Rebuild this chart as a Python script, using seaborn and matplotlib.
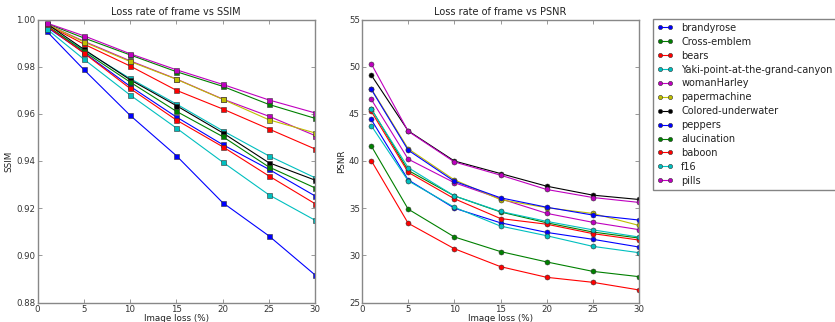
import numpy as np
import pandas as pd
import matplotlib
matplotlib.use("Agg")
import matplotlib.pyplot as plt
import seaborn as sns

loss = [1, 5, 10, 15, 20, 25, 30]
names = ["brandyrose", "Cross-emblem", "bears", "Yaki-point-at-the-grand-canyon",
         "womanHarley", "papermachine", "Colored-underwater", "peppers",
         "alucination", "baboon", "f16", "pills"]
colors = ["#0000ff", "#008000", "#ff0000", "#00bfbf", "#bf00bf", "#bfbf00",
          "#000000", "#0000ff", "#008000", "#ff0000", "#00bfbf", "#bf00bf"]

ssim_brandyrose = [0.9950, 0.9788, 0.9594, 0.9423, 0.9224, 0.9083, 0.8917]
ssim_cross      = [0.9983, 0.9922, 0.9850, 0.9779, 0.9717, 0.9640, 0.9581]
ssim_bears      = [0.9978, 0.9896, 0.9803, 0.9700, 0.9621, 0.9536, 0.9451]
ssim_yaki       = [0.9972, 0.9870, 0.9750, 0.9642, 0.9529, 0.9422, 0.9329]
ssim_woman      = [0.9980, 0.9908, 0.9825, 0.9748, 0.9663, 0.9590, 0.9508]
ssim_paper      = [0.9980, 0.9905, 0.9822, 0.9747, 0.9662, 0.9575, 0.9519]
ssim_colored    = [0.9982, 0.9874, 0.9745, 0.9635, 0.9520, 0.9393, 0.9319]
ssim_peppers    = [0.9968, 0.9860, 0.9717, 0.9587, 0.9470, 0.9365, 0.9252]
ssim_alucin     = [0.9975, 0.9865, 0.9735, 0.9611, 0.9504, 0.9375, 0.9286]
ssim_baboon     = [0.9972, 0.9858, 0.9708, 0.9574, 0.9461, 0.9337, 0.9219]
ssim_f16        = [0.9960, 0.9832, 0.9680, 0.9540, 0.9396, 0.9257, 0.9149]
ssim_pills      = [0.9985, 0.9931, 0.9855, 0.9787, 0.9725, 0.9659, 0.9604]

psnr_brandyrose = [44.4, 38.0, 35.0, 33.45, 32.43, 31.7, 30.88]
psnr_cross      = [45.55, 39.0, 36.3, 34.6, 33.45, 32.47, 31.83]
psnr_bears      = [45.27, 38.8, 36.0, 33.9, 33.3, 32.3, 31.62]
psnr_yaki       = [45.48, 39.3, 36.3, 34.65, 33.6, 32.7, 31.94]
psnr_woman      = [46.54, 40.2, 37.7, 36.0, 34.45, 33.5, 32.72]
psnr_paper      = [47.67, 41.3, 38.0, 35.9, 35.05, 34.44, 33.17]
psnr_colored    = [49.11, 43.2, 40.0, 38.67, 37.33, 36.38, 35.92]
psnr_peppers    = [47.6, 41.15, 37.85, 36.1, 35.1, 34.27, 33.74]
psnr_alucin     = [41.6, 34.9, 31.95, 30.4, 29.3, 28.3, 27.74]
psnr_baboon     = [40.05, 33.4, 30.7, 28.8, 27.67, 27.14, 26.33]
psnr_f16        = [43.75, 37.9, 35.1, 33.1, 32.08, 30.95, 30.28]
psnr_pills      = [50.31, 43.15, 39.9, 38.5, 36.98, 36.13, 35.61]

ssim = [ssim_brandyrose, ssim_cross, ssim_bears, ssim_yaki, ssim_woman, ssim_paper,
        ssim_colored, ssim_peppers, ssim_alucin, ssim_baboon, ssim_f16, ssim_pills]
psnr = [psnr_brandyrose, psnr_cross, psnr_bears, psnr_yaki, psnr_woman, psnr_paper,
        psnr_colored, psnr_peppers, psnr_alucin, psnr_baboon, psnr_f16, psnr_pills]

rows = []
for n, s, p in zip(names, ssim, psnr):
    for x, sv, pv in zip(loss, s, p):
        rows.append({"image": n, "loss": x, "SSIM": sv, "PSNR": pv})
df = pd.DataFrame(rows)

sns.set_style("ticks")
plt.rcParams["font.family"] = ["DejaVu Sans"]
plt.rcParams.update({
    "xtick.direction": "in", "ytick.direction": "in",
    "xtick.top": True, "ytick.right": True,
    "axes.edgecolor": "#888888", "xtick.color": "#888888", "ytick.color": "#888888",
    "xtick.labelcolor": "#333333", "ytick.labelcolor": "#333333",
    "text.color": "#222222", "axes.labelcolor": "#222222",
    "xtick.major.size": 3, "ytick.major.size": 3,
})

fig = plt.figure(figsize=(8.35, 3.22), dpi=100)
ax1 = fig.add_axes([37.5/835, 19.5/322, 277.5/835, 283/322])
ax2 = fig.add_axes([362/835, 19.5/322, 277/835, 283/322])

common = dict(x="loss", hue="image", hue_order=names, palette=colors,
              errorbar=None, sort=False, legend=False, linewidth=0.8,
              markersize=3.6, markeredgecolor="#333333", markeredgewidth=0.4)
sns.lineplot(data=df, y="SSIM", ax=ax1, marker="s", **common)
sns.lineplot(data=df, y="PSNR", ax=ax2, marker="o", **common)

for ax in (ax1, ax2):
    ax.set_xlim(0, 30)
    ax.set_xticks([0, 5, 10, 15, 20, 25, 30])
    ax.tick_params(labelsize=6.2, pad=1.5, width=0.6)
    ax.set_xlabel("Image loss (%)", fontsize=6.3, labelpad=0)
    for sp in ax.spines.values():
        sp.set_linewidth(1.0)

ax1.set_ylim(0.88, 1.00)
ax1.set_yticks(np.arange(0.88, 1.001, 0.02))
ax1.yaxis.set_major_formatter(matplotlib.ticker.FormatStrFormatter("%.2f"))
ax1.set_ylabel("SSIM", fontsize=6.3, labelpad=2)
ax1.set_title("Loss rate of frame vs SSIM", fontsize=7, pad=3)

ax2.set_ylim(25, 55)
ax2.set_yticks([25, 30, 35, 40, 45, 50, 55])
ax2.set_ylabel("PSNR", fontsize=6.3, labelpad=2)
ax2.set_title("Loss rate of frame vs PSNR", fontsize=7, pad=3)

handles = ax2.get_lines()[:len(names)]
leg = fig.legend(handles, names, loc="upper left", bbox_to_anchor=(653/835, 1 - 18.5/322),
                 fontsize=7, numpoints=2, frameon=True, fancybox=False,
                 borderaxespad=0, handlelength=1.55, labelspacing=0.4,
                 borderpad=0.45, handletextpad=0.9, markerscale=0.85)
leg.get_frame().set_edgecolor("#666666")
leg.get_frame().set_linewidth(1.0)

fig.savefig("out.png", dpi=100)
